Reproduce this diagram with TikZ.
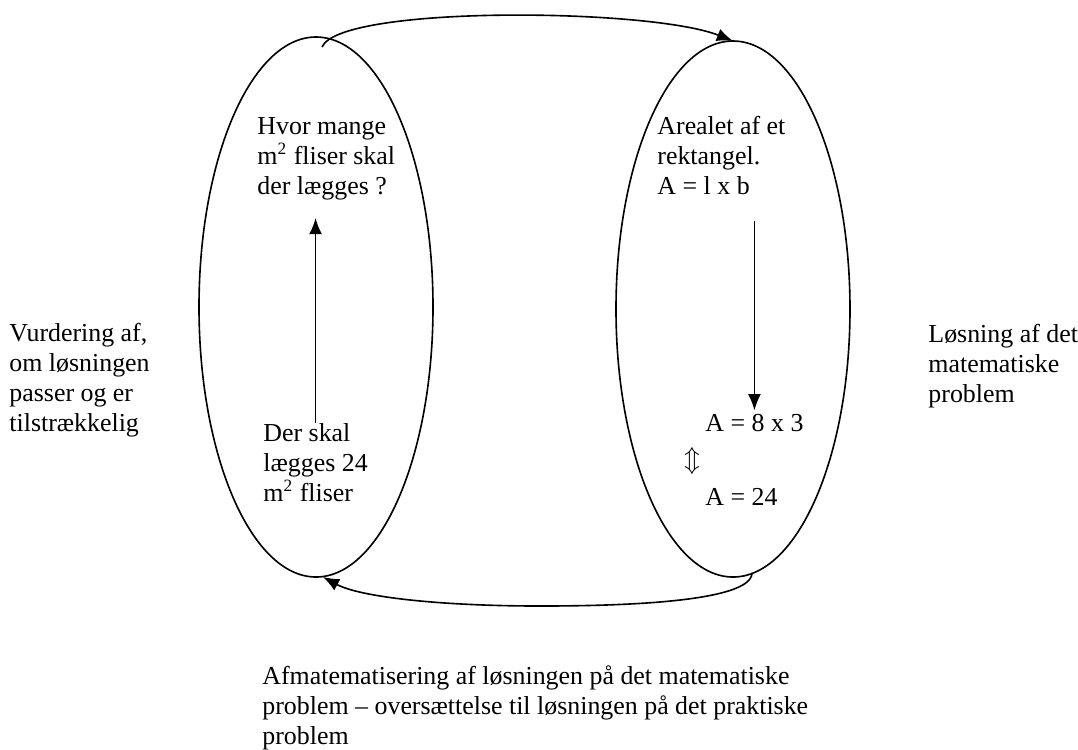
\documentclass[tikz,border=0pt]{standalone}
\usepackage{fontspec}
\setmainfont{Liberation Serif}
\usetikzlibrary{arrows.meta, shapes.geometric, calc}
\newcommand{\px}{0.4635pt}

\begin{document}
\begin{tikzpicture}[x=\px, y=-\px,
			>={Latex[length=7.5pt,width=6pt]},   %Pfeilspitzen
			font=\fontsize{12}{13.8}\selectfont,
			oval/.style={draw, ellipse, line width=0.75pt, inner sep=0pt, outer sep=0pt},
			tekst/.style={anchor=base west, align=left, inner sep=0pt},
			pfeil/.style={->, line width=0.75pt}]
			%Bildbereich
			\useasboundingbox (0,0) rectangle (1078,749);
			% Ellipsen
			\node[oval, minimum width=234*\px, minimum height=540*\px] (praktisk) at (316,307) {};
			\node[oval, minimum width=234*\px, minimum height=536*\px] (matematisk) at (733,309) {};
			% Texte in den Ellipsen (base = letzte Zeile)
			\node[tekst] (spoergsmaal) at (257,194) {Hvor mange\\m\textsuperscript{2} fliser skal\\der lægges ?};
			\node[tekst] (svar) at (263,501) {Der skal\\lægges 24\\m\textsuperscript{2} fliser};
			\node[tekst] (formel) at (657,194) {Arealet af et\\rektangel.\\A = l x b};
			\node[tekst] (udregning) at (705,431) {A = 8 x 3};
			\node[inner sep=0pt] (pil) at (692,461) {$\Updownarrow$};
			\node[tekst] (resultat) at (705,505) {A = 24};
			% Texte aussen
			\node[tekst] (vurdering) at (9,431) {Vurdering af,\\om løsningen\\passer og er\\tilstrækkelig};
			\node[tekst] (loesning) at (928,402) {Løsning af det\\matematiske\\problem};
			\node[tekst] (afmat) at (262,744) {Afmatematisering af løsningen på det matematiske\\problem – oversættelse til løsningen på det praktiske\\problem};
			% Pfeile innen
			\draw[pfeil] (svar.north) -- ($(svar.north |- spoergsmaal.south)+(0,18)$);
			\draw[pfeil] ($(udregning.north |- formel.south)+(0,26)$) -- ($(udregning.north)+(0,-3)$);
			% Pfeile zwischen den Ellipsen
			\draw[pfeil] ([xshift=6*\px,yshift=-10*\px]praktisk.north) .. controls +(18,-42) and +(-83,-33) .. (matematisk.north);
			\draw[pfeil] ([xshift=19*\px,yshift=4*\px]matematisk.south) .. controls +(0,18) and +(160,0) .. (540,606)
				.. controls +(-100,0) and +(37,20) .. ([xshift=7*\px]praktisk.south);
\end{tikzpicture}
\end{document}
